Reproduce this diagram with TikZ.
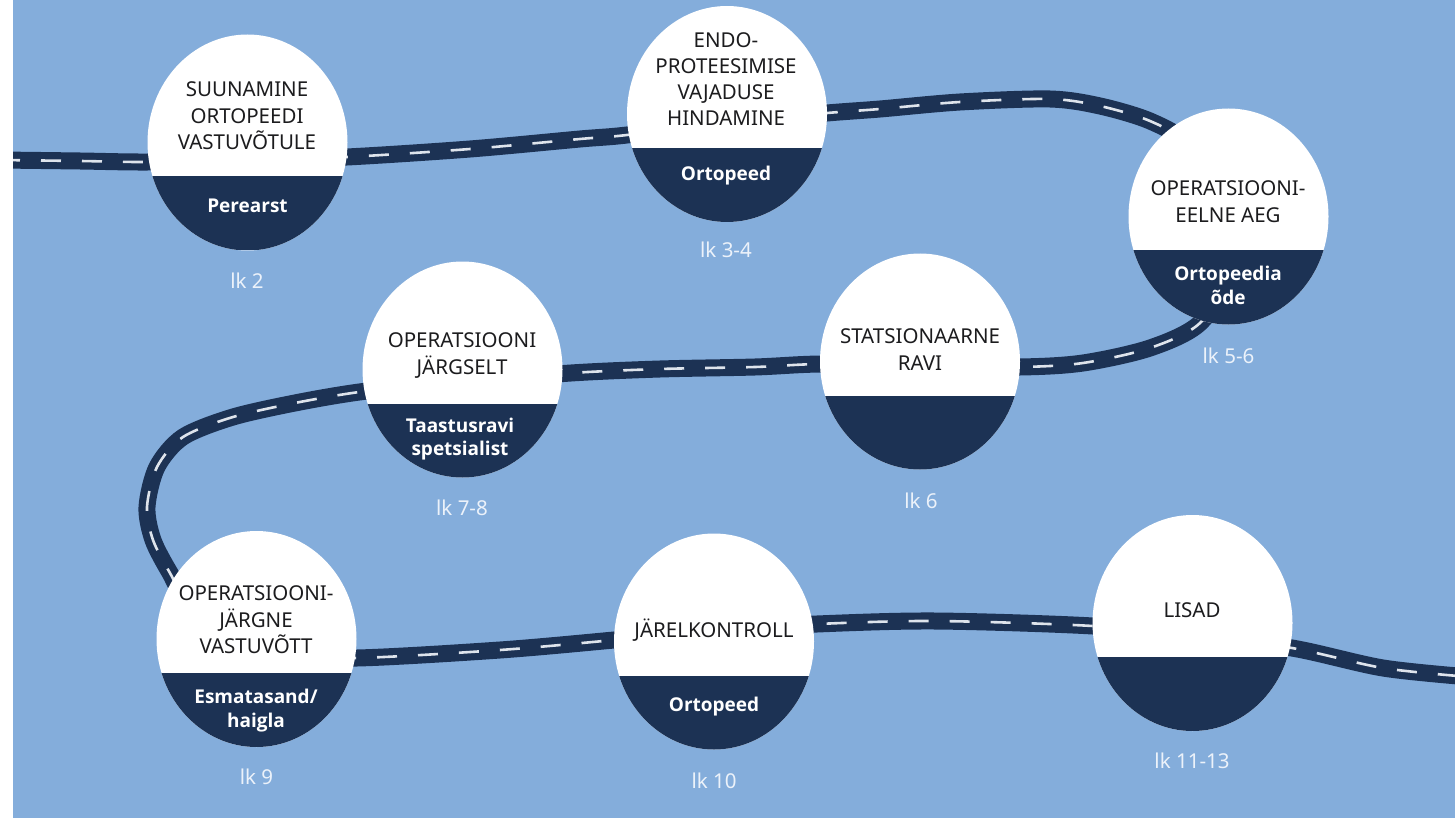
\documentclass[tikz,border=0pt]{standalone}
\usepackage{fontspec}
\setmainfont{Noto Sans}
\newfontfamily\opensans{Open Sans}
\usetikzlibrary{shapes.geometric}
\definecolor{sky}{RGB}{132,173,219}
\definecolor{navy}{RGB}{28,50,84}
\definecolor{ink}{RGB}{28,28,30}
\definecolor{pale}{RGB}{236,242,250}
\definecolor{roadline}{RGB}{222,228,236}
\tikzset{
  stopnode/.style={ellipse, minimum width=200pt, minimum height=216pt, inner sep=0pt,
    fill=white, draw=none,
    path picture={\fill[navy] ([yshift=-34pt]path picture bounding box.west) rectangle (path picture bounding box.south east);}},
  uptext/.style={text=ink, font=\fontsize{20.5}{26}\selectfont, anchor=base, inner sep=0pt},
  lowtext/.style={text=white, font=\opensans\bfseries\fontsize{19}{23}\selectfont, anchor=base, inner sep=0pt},
  pagetext/.style={text=pale, font=\fontsize{20.5}{25}\selectfont, anchor=base, inner sep=0pt},
  road/.style={navy, line width=17pt, line cap=butt,
    postaction={draw=roadline, line width=2.6pt, dash pattern=on 20pt off 21pt}}
}
\begin{document}
\begin{tikzpicture}[x=1pt,y=-1pt]
\useasboundingbox (0,0) rectangle (1455,818);
\fill[white] (0,0) rectangle (13,818);
\fill[sky] (13,0) rectangle (1455,818);

% road
\begin{scope}
\clip (13,0) rectangle (1455,818);
\draw[road] plot[smooth, tension=0.5] coordinates {
 (0,160) (80,161) (148,162) (250,160) (347,157) (470,149) (580,139) (627,135)
 (727,122) (827,113) (880,109) (960,102) (1050,99) (1100,106) (1150,121)
 (1190,145) (1228,200) (1232,270) (1200,323) (1150,348) (1083,363) (1020,367)
 (921,366) (822,364) (755,367) (660,369) (571,373) (462,382) (367,391)
 (300,402) (233,417) (183,437) (157,467) (147,507) (153,540) (170,573)
 (195,612) (270,655) (357,658) (500,650) (614,640) (714,630) (817,624)
 (935,621) (1093,626) (1192,636) (1292,648) (1383,668) (1470,677)};
\end{scope}

% stops
\node[stopnode] (c1) at (247.5,142.5) {};
\node[stopnode] (c2) at (727,114) {};
\node[stopnode] (c3) at (1228.5,216.5) {};
\node[stopnode] (c4) at (462.5,369.5) {};
\node[stopnode] (c5) at (920,361.5) {};
\node[stopnode] (c6) at (256.5,639) {};
\node[stopnode] (c7) at (714,641.5) {};
\node[stopnode] (c8) at (1192.5,623) {};

% stop 1
\node[uptext] (t1a) at (247,97) {SUUNAMINE};
\node[uptext] (t1b) at (247,124) {ORTOPEEDI};
\node[uptext] (t1c) at (247,150) {VASTUVÕTULE};
\node[lowtext] (w1) at (247.5,213) {Perearst};
\node[pagetext] (p1) at (247,288) {lk 2};

% stop 2
\node[uptext] (t2a) at (726,48) {ENDO-};
\node[uptext] (t2b) at (726,74) {PROTEESIMISE};
\node[uptext] (t2c) at (726,100) {VAJADUSE};
\node[uptext] (t2d) at (726,126) {HINDAMINE};
\node[lowtext] (w2) at (726,181) {Ortopeed};
\node[pagetext] (p2) at (726,258) {lk 3-4};

% stop 3
\node[uptext] (t3a) at (1228,196) {OPERATSIOONI-};
\node[uptext] (t3b) at (1228,223) {EELNE AEG};
\node[lowtext] (w3a) at (1228,280) {Ortopeedia};
\node[lowtext] (w3b) at (1228,304) {õde};
\node[pagetext] (p3) at (1228.5,363) {lk 5-6};

% stop 4
\node[uptext] (t4a) at (462,347) {OPERATSIOONI};
\node[uptext] (t4b) at (462,374) {JÄRGSELT};
\node[lowtext] (w4a) at (460,432) {Taastusravi};
\node[lowtext] (w4b) at (460,455) {spetsialist};
\node[pagetext] (p4) at (462,515) {lk 7-8};

% stop 5
\node[uptext] (t5a) at (920,343) {STATSIONAARNE};
\node[uptext] (t5b) at (920,370) {RAVI};
\node[pagetext] (p5) at (921,508) {lk 6};

% stop 6
\node[uptext] (t6a) at (256,600) {OPERATSIOONI-};
\node[uptext] (t6b) at (256,627) {JÄRGNE};
\node[uptext] (t6c) at (256,653) {VASTUVÕTT};
\node[lowtext] (w6a) at (256,703) {Esmatasand/};
\node[lowtext] (w6b) at (256,727) {haigla};
\node[pagetext] (p6) at (256.5,784) {lk 9};

% stop 7
\node[uptext] (t7a) at (714,637) {JÄRELKONTROLL};
\node[lowtext] (w7) at (714,711) {Ortopeed};
\node[pagetext] (p7) at (714,788) {lk 10};

% stop 8
\node[uptext] (t8a) at (1192,617) {LISAD};
\node[pagetext] (p8) at (1192,768) {lk 11-13};
\end{tikzpicture}
\end{document}
